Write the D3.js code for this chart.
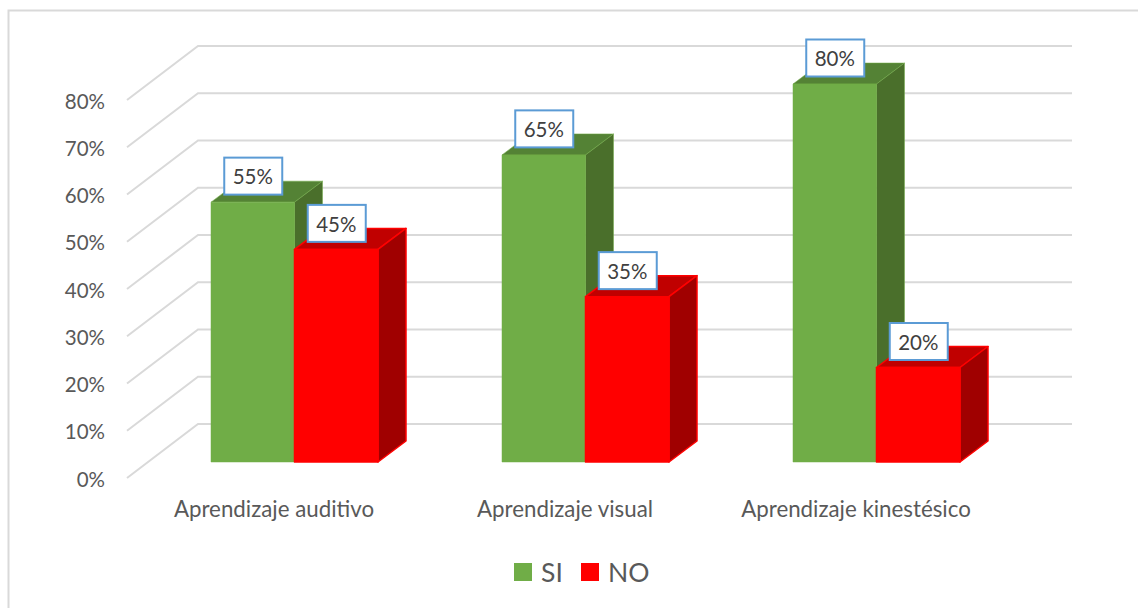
<!DOCTYPE html>
<html lang="es">
<head>
    <meta charset="UTF-8">
    <title>Aprendizaje</title>
    <script src="https://d3js.org/d3.v7.min.js"></script>
    <style>
        html, body { margin: 0; padding: 0; background: #fff; overflow: hidden; }
        svg { display: block; font-family: Lato, "Open Sans", sans-serif; }
        .tick text, .catLabel { fill: #595959; }
    </style>
</head>
<body>
    <div id="chart"></div>
    <script>
        const categories = ['Aprendizaje auditivo', 'Aprendizaje visual', 'Aprendizaje kinestésico'];
        const seriesNames = ['SI', 'NO'];
        const siValues = [55, 65, 80];
        const noValues = [45, 35, 20];
        const yTicks = [0, 10, 20, 30, 40, 50, 60, 70, 80];

        const width = 1138, height = 608;
        const colors = {
            SI: { front: '#70ad47', top: '#548235', side: '#4a6f2b', line: '#70ad47', lw: 0.5 },
            NO: { front: '#ff0000', top: '#c00000', side: '#a00000', line: '#ff0000', lw: 1.5 }
        };

        const svg = d3.select('#chart').append('svg')
            .attr('width', width).attr('height', height);

        // chart frame, only top and left show in the picture
        svg.append('path')
            .attr('d', 'M8.5,608V10.5H1138')
            .attr('fill', 'none').attr('stroke', '#d9d9d9').attr('stroke-width', 2);

        // front edge of the floor, bars stand a bit further back
        const yWall = d3.scaleLinear().domain([0, 80]).range([478, 100]);
        const yBar = d3.scaleLinear().domain([0, 80]).range([462, 84]);
        const x0 = d3.scaleBand().domain(categories).range([148.5, 1021.5]);
        const x1 = d3.scaleBand().domain(seriesNames).range([x0.bandwidth() / 2 - 83, x0.bandwidth() / 2 + 84]);

        const wallDx = 71, wallDy = -54, wallLeft = 127, wallRight = 1072;
        const barDx = 28, barDy = -21;

        svg.append('g').selectAll('path')
            .data(yTicks)
            .join('path')
            .attr('d', d => `M${wallLeft},${yWall(d)}L${wallLeft + wallDx},${yWall(d) + wallDy}H${wallRight}`)
            .attr('fill', 'none')
            .attr('stroke', '#d9d9d9')
            .attr('stroke-width', 2);

        const yAxis = d3.axisLeft(yWall).tickValues(yTicks).tickSize(0).tickPadding(0).tickFormat(d => d + '%');
        svg.append('g')
            .attr('transform', 'translate(105,1.5)')
            .call(yAxis)
            .call(g => g.select('.domain').remove())
            .call(g => g.selectAll('text').style('font-size', '20.5px').style('font-family', 'Lato'));

        const rows = categories.map((c, i) => ({ cat: c, values: [siValues[i], noValues[i]] }));

        const groups = svg.append('g').selectAll('g')
            .data(rows)
            .join('g')
            .attr('transform', d => `translate(${x0(d.cat)},0)`);

        const bars = groups.selectAll('g')
            .data(d => d.values.map((v, i) => ({ name: seriesNames[i], value: v })))
            .join('g');

        const face = (sel, part, pts) => sel.append('path')
            .attr('d', d => 'M' + pts(d).join('L') + 'Z')
            .attr('fill', d => colors[d.name][part])
            .attr('stroke', d => colors[d.name].line)
            .attr('stroke-width', d => colors[d.name].lw)
            .attr('stroke-linejoin', 'round');

        face(bars, 'top', d => {
            const l = x1(d.name), r = l + x1.bandwidth(), t = yBar(d.value);
            return [[l, t], [r, t], [r + barDx, t + barDy], [l + barDx, t + barDy]];
        });
        face(bars, 'side', d => {
            const r = x1(d.name) + x1.bandwidth(), t = yBar(d.value), b = yBar(0);
            return [[r, t], [r + barDx, t + barDy], [r + barDx, b + barDy], [r, b]];
        });
        face(bars, 'front', d => {
            const l = x1(d.name), r = l + x1.bandwidth(), t = yBar(d.value), b = yBar(0);
            return [[l, t], [r, t], [r, b], [l, b]];
        });

        // value boxes go on top of every bar
        const labels = svg.append('g').selectAll('g')
            .data(rows.flatMap(r => r.values.map((v, i) => ({ cat: r.cat, name: seriesNames[i], value: v }))))
            .join('g')
            .attr('transform', d => `translate(${x0(d.cat) + x1(d.name) + x1.bandwidth() / 2},${yBar(d.value) - 26})`);

        labels.append('rect')
            .attr('x', -28.5).attr('y', -18.5)
            .attr('width', 58).attr('height', 37)
            .attr('fill', '#fff')
            .attr('stroke', '#5b9bd5')
            .attr('stroke-width', 2);

        labels.append('text')
            .attr('x', 0).attr('y', 1)
            .attr('dy', '.35em')
            .attr('text-anchor', 'middle')
            .style('font-size', '20.5px')
            .style('fill', '#404040')
            .text(d => d.value + '%');

        svg.append('g').selectAll('text')
            .data(categories)
            .join('text')
            .attr('class', 'catLabel')
            .attr('x', d => x0(d) + x0.bandwidth() / 2 - 20)
            .attr('y', 517)
            .attr('text-anchor', 'middle')
            .style('font-size', '22.3px')
            .text(d => d);

        // legend
        const legendX = d3.scaleOrdinal().domain(seriesNames).range([514, 581]);
        const legend = svg.append('g').selectAll('g')
            .data(seriesNames)
            .join('g')
            .attr('transform', d => `translate(${legendX(d)},563)`);
        legend.append('rect')
            .attr('width', 18).attr('height', 18)
            .attr('fill', d => colors[d].front);
        legend.append('text')
            .attr('x', 27).attr('y', 19)
            .style('font-size', '26.5px')
            .style('fill', '#595959')
            .text(d => d);
    </script>
</body>
</html>
